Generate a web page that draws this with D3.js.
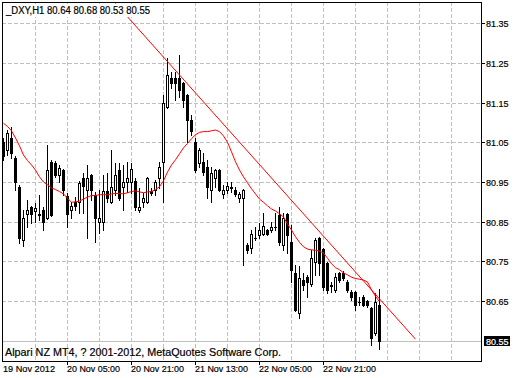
<!DOCTYPE html>
<html>
<head>
<meta charset="utf-8">
<script src="https://cdn.jsdelivr.net/npm/d3@7"></script>
<style>
body { margin: 0; background: #fff; }
svg text { font-family: "Liberation Sans", Arial, sans-serif; font-size: 9.5px; fill: #000; stroke: #000; stroke-width: 0.2px; }
svg text.inv { fill: #fff; stroke: #fff; }
</style>
</head>
<body>
<div id="chart"></div>
<script>
var WD = 519, HT = 378

// hourly bars, index 0 = 19 Nov 2012 13:00
var opens = [81.051, 81.031, 81.061, 81.011, 80.938, 80.804, 80.870, 80.887, 80.877, 80.870,
  80.880, 80.860, 81.001, 80.998, 80.968, 80.981, 80.915, 80.880, 80.900, 80.900,
  80.960, 80.930, 80.968, 80.918, 80.850, 80.850, 80.928, 80.900, 80.930, 80.981,
  80.938, 80.950, 80.950, 80.953, 80.880, 80.900, 80.900, 80.928, 80.930, 80.960,
  81.001, 81.139, 81.212, 81.212, 81.212, 81.200, 81.169, 81.106, 81.051, 80.998,
  81.001, 80.988, 80.930, 80.960, 80.981, 80.920, 80.930, 80.938, 80.930, 80.910,
  80.910, 80.792, 80.784, 80.809, 80.817, 80.819, 80.829, 80.829, 80.837, 80.867,
  80.792, 80.870, 80.799, 80.721, 80.620, 80.703, 80.711, 80.693, 80.749, 80.809,
  80.781, 80.746, 80.691, 80.678, 80.721, 80.721, 80.698, 80.673, 80.673, 80.648,
  80.661, 80.650, 80.633, 80.570, 80.640]
var highs = [81.061, 81.081, 81.089, 81.016, 80.943, 80.880, 80.905, 80.890, 80.897, 80.918,
  80.887, 81.043, 81.006, 81.003, 80.993, 80.983, 80.923, 80.900, 80.912, 80.953,
  80.973, 80.993, 80.970, 80.925, 80.930, 80.968, 80.973, 81.031, 80.998, 80.998,
  80.993, 81.001, 80.998, 80.960, 80.935, 80.923, 80.963, 80.935, 80.955, 81.001,
  81.169, 81.263, 81.227, 81.227, 81.270, 81.202, 81.172, 81.119, 81.061, 81.036,
  81.023, 81.006, 80.988, 80.983, 80.983, 80.943, 80.950, 80.950, 80.938, 80.925,
  80.933, 80.797, 80.829, 80.837, 80.847, 80.872, 80.832, 80.850, 80.872, 80.887,
  80.872, 80.872, 80.842, 80.741, 80.739, 80.721, 80.716, 80.779, 80.809, 80.812,
  80.784, 80.749, 80.698, 80.721, 80.724, 80.726, 80.703, 80.678, 80.676, 80.661,
  80.666, 80.653, 80.635, 80.671, 80.680]
var lows = [81.006, 81.018, 81.011, 80.930, 80.797, 80.789, 80.837, 80.847, 80.850, 80.855,
  80.829, 80.857, 80.865, 80.963, 80.950, 80.918, 80.837, 80.860, 80.880, 80.872,
  80.872, 80.809, 80.905, 80.799, 80.822, 80.829, 80.900, 80.897, 80.918, 80.905,
  80.880, 80.925, 80.923, 80.880, 80.875, 80.887, 80.897, 80.918, 80.918, 80.935,
  80.900, 81.137, 81.187, 81.157, 81.164, 81.139, 81.051, 81.069, 80.975, 80.988,
  80.968, 80.910, 80.900, 80.938, 80.928, 80.910, 80.923, 80.925, 80.915, 80.900,
  80.741, 80.771, 80.771, 80.804, 80.809, 80.817, 80.817, 80.824, 80.829, 80.792,
  80.779, 80.771, 80.698, 80.625, 80.608, 80.678, 80.661, 80.688, 80.716, 80.716,
  80.678, 80.671, 80.673, 80.673, 80.698, 80.703, 80.673, 80.653, 80.628, 80.640,
  80.638, 80.635, 80.540, 80.565, 80.530]
var closes = [81.016, 81.074, 81.023, 80.950, 80.809, 80.860, 80.880, 80.870, 80.885, 80.868,
  80.850, 80.981, 80.867, 80.968, 80.986, 80.930, 80.870, 80.890, 80.890, 80.948,
  80.940, 80.960, 80.930, 80.860, 80.860, 80.928, 80.910, 80.938, 80.968, 80.910,
  80.950, 80.960, 80.983, 80.887, 80.887, 80.910, 80.960, 80.923, 80.950, 80.988,
  81.149, 81.220, 81.200, 81.200, 81.182, 81.157, 81.106, 81.079, 80.981, 81.031,
  80.975, 80.938, 80.973, 80.981, 80.930, 80.930, 80.940, 80.936, 80.920, 80.920,
  80.930, 80.779, 80.819, 80.810, 80.829, 80.839, 80.819, 80.837, 80.836, 80.799,
  80.860, 80.817, 80.729, 80.628, 80.708, 80.691, 80.698, 80.759, 80.804, 80.746,
  80.686, 80.678, 80.689, 80.711, 80.703, 80.708, 80.678, 80.661, 80.640, 80.647,
  80.640, 80.640, 80.557, 80.648, 80.550]
var maValues = [81.098, 81.090, 81.079, 81.061, 81.041, 81.018, 81.004, 80.993, 80.980, 80.963,
  80.950, 80.943, 80.935, 80.931, 80.926, 80.920, 80.909, 80.899, 80.900, 80.902,
  80.907, 80.912, 80.916, 80.916, 80.918, 80.918, 80.918, 80.920, 80.921, 80.921,
  80.920, 80.923, 80.926, 80.928, 80.925, 80.923, 80.925, 80.926, 80.931, 80.938,
  80.953, 80.975, 80.993, 81.006, 81.021, 81.036, 81.047, 81.059, 81.069, 81.075,
  81.077, 81.077, 81.079, 81.081, 81.077, 81.066, 81.050, 81.026, 81.001, 80.980,
  80.963, 80.948, 80.933, 80.920, 80.907, 80.899, 80.890, 80.882, 80.877, 80.870,
  80.862, 80.844, 80.829, 80.812, 80.798, 80.787, 80.781, 80.779, 80.778, 80.776,
  80.771, 80.758, 80.744, 80.734, 80.729, 80.721, 80.716, 80.710, 80.707, 80.705,
  80.703, 80.698, 80.678, 80.662, 80.648]

var priceTicks = [81.35, 81.25, 81.15, 81.05, 80.95, 80.85, 80.75, 80.65]
var timeTickIdx = [16, 32, 48, 64, 80]
var timeLabels = ["20 Nov 05:00", "20 Nov 21:00", "21 Nov 13:00", "22 Nov 05:00", "22 Nov 21:00"]
var firstDate = "19 Nov 2012"
var trendIdx = [28, 103]
var trendPrice = [81.400, 80.554]
var symbolName = "_DXY,H1"
var copyright = "Alpari NZ MT4, ? 2001-2012, MetaQuotes Software Corp."

var plot = { left: 2, top: 2, right: 481, bottom: 361 }

var x = d3.scaleLinear().domain([0, 119]).range([3.5, 479.5])
var y = d3.scaleLinear().domain([80.499, 81.401]).range([361, 3])
var py = function(p) { return Math.round(y(p)) }

var svg = d3.select("#chart")
  .append("svg")
    .attr("width", WD)
    .attr("height", HT)

svg.append("defs").append("clipPath").attr("id", "clip")
  .append("rect")
    .attr("x", plot.left).attr("y", plot.top)
    .attr("width", plot.right - plot.left).attr("height", plot.bottom - plot.top)

var grid = svg.append("g")
  .attr("stroke", "#c0c0c0")
  .attr("stroke-dasharray", "4,2")
  .attr("shape-rendering", "crispEdges")

grid.selectAll(".vgrid")
  .data(d3.range(8, 119, 8))
  .enter().append("line")
    .attr("x1", function(d) { return x(d) })
    .attr("x2", function(d) { return x(d) })
    .attr("y1", plot.top)
    .attr("y2", plot.bottom)

grid.selectAll(".hgrid")
  .data(priceTicks)
  .enter().append("line")
    .attr("x1", plot.left)
    .attr("x2", plot.right)
    .attr("y1", function(d) { return py(d) + 0.5 })
    .attr("y2", function(d) { return py(d) + 0.5 })

// bid line
var last = closes.length - 1
svg.append("line")
  .attr("x1", plot.left).attr("x2", plot.right)
  .attr("y1", py(closes[last]) + 0.5).attr("y2", py(closes[last]) + 0.5)
  .attr("stroke", "#c0c0c0")
  .attr("shape-rendering", "crispEdges")

// candles
var bars = svg.append("g")
  .attr("clip-path", "url(#clip)")
  .attr("shape-rendering", "crispEdges")

var candles = bars.selectAll(".candle")
  .data(opens)
  .enter().append("g")

candles.append("line")
  .attr("x1", function(d, i) { return x(i) })
  .attr("x2", function(d, i) { return x(i) })
  .attr("y1", function(d, i) { return py(highs[i]) })
  .attr("y2", function(d, i) { return py(lows[i]) + 1 })
  .attr("stroke", "#000")

candles.each(function(o, i) {
  var c = closes[i]
  var t = py(Math.max(o, c)), b = py(Math.min(o, c))
  var g = d3.select(this)
  if (b - t < 1) {
    g.append("line")
      .attr("x1", x(i) - 1.5).attr("x2", x(i) + 1.5)
      .attr("y1", t + 0.5).attr("y2", t + 0.5)
      .attr("stroke", "#000")
  } else if (c > o) {
    g.append("rect")
      .attr("x", x(i) - 1).attr("y", t + 0.5)
      .attr("width", 2).attr("height", b - t)
      .attr("fill", "#fff").attr("stroke", "#000")
  } else {
    g.append("rect")
      .attr("x", x(i) - 1.5).attr("y", t)
      .attr("width", 3).attr("height", b - t + 1)
      .attr("fill", "#000")
  }
})

// moving average
var maLine = d3.line()
  .x(function(d, i) { return x(i) })
  .y(function(d) { return y(d) })

svg.append("path")
  .datum(maValues)
  .attr("clip-path", "url(#clip)")
  .attr("d", maLine)
  .attr("fill", "none")
  .attr("stroke", "#ff0000")
  .attr("stroke-width", 1)

// trend line
svg.append("line")
  .attr("clip-path", "url(#clip)")
  .attr("x1", x(trendIdx[0])).attr("y1", y(trendPrice[0]))
  .attr("x2", x(trendIdx[1])).attr("y2", y(trendPrice[1]))
  .attr("stroke", "#ff0000")
  .attr("stroke-width", 1)

// top-left label
svg.append("rect")
  .attr("x", 3).attr("y", 4)
  .attr("width", 150).attr("height", 13)
  .attr("fill", "#fff")

svg.append("text")
  .attr("x", 6).attr("y", 14)
  .style("font-size", "10px")
  .attr("textLength", 144)
  .attr("lengthAdjust", "spacingAndGlyphs")
  .text(symbolName + " " + [opens[last], highs[last], lows[last], closes[last]].map(function(v) { return v.toFixed(2) }).join(" "))

svg.append("text")
  .attr("x", 5).attr("y", 356)
  .style("font-size", "11px")
  .attr("textLength", 276)
  .attr("lengthAdjust", "spacingAndGlyphs")
  .text(copyright)

// frame
svg.append("rect")
  .attr("x", plot.left + 0.5).attr("y", plot.top + 0.5)
  .attr("width", plot.right - plot.left).attr("height", plot.bottom - plot.top)
  .attr("fill", "none")
  .attr("stroke", "#000")
  .attr("shape-rendering", "crispEdges")

// price axis
var yAxis = svg.append("g")
yAxis.selectAll(".ptick")
  .data(priceTicks)
  .enter().append("line")
    .attr("x1", plot.right).attr("x2", plot.right + 4)
    .attr("y1", function(d) { return py(d) + 0.5 })
    .attr("y2", function(d) { return py(d) + 0.5 })
    .attr("stroke", "#000")
    .attr("shape-rendering", "crispEdges")
yAxis.selectAll(".plabel")
  .data(priceTicks)
  .enter().append("text")
    .attr("x", 486)
    .attr("y", function(d) { return py(d) + 4 })
    .attr("textLength", 22.5)
    .attr("lengthAdjust", "spacingAndGlyphs")
    .text(function(d) { return d.toFixed(2) })

svg.append("rect")
  .attr("x", 484).attr("y", py(closes[last]) - 5)
  .attr("width", 26).attr("height", 10)
  .attr("fill", "#000")
svg.append("text")
  .attr("class", "inv")
  .attr("x", 486).attr("y", py(closes[last]) + 4)
  .attr("textLength", 22.5)
  .attr("lengthAdjust", "spacingAndGlyphs")
  .text(closes[last].toFixed(2))

// time axis
var xAxis = svg.append("g")
xAxis.selectAll(".ttick")
  .data(timeTickIdx)
  .enter().append("line")
    .attr("x1", function(d) { return x(d) })
    .attr("x2", function(d) { return x(d) })
    .attr("y1", plot.bottom)
    .attr("y2", plot.bottom + 4)
    .attr("stroke", "#000")
    .attr("shape-rendering", "crispEdges")
xAxis.selectAll(".tlabel")
  .data(timeLabels)
  .enter().append("text")
    .attr("x", function(d, i) { return x(timeTickIdx[i]) - 0.5 })
    .attr("y", 372)
    .attr("textLength", 53)
    .attr("lengthAdjust", "spacingAndGlyphs")
    .text(function(d) { return d })
xAxis.append("text")
  .attr("x", 3).attr("y", 372)
  .attr("textLength", 52)
  .attr("lengthAdjust", "spacingAndGlyphs")
  .text(firstDate)
</script>
</body>
</html>
